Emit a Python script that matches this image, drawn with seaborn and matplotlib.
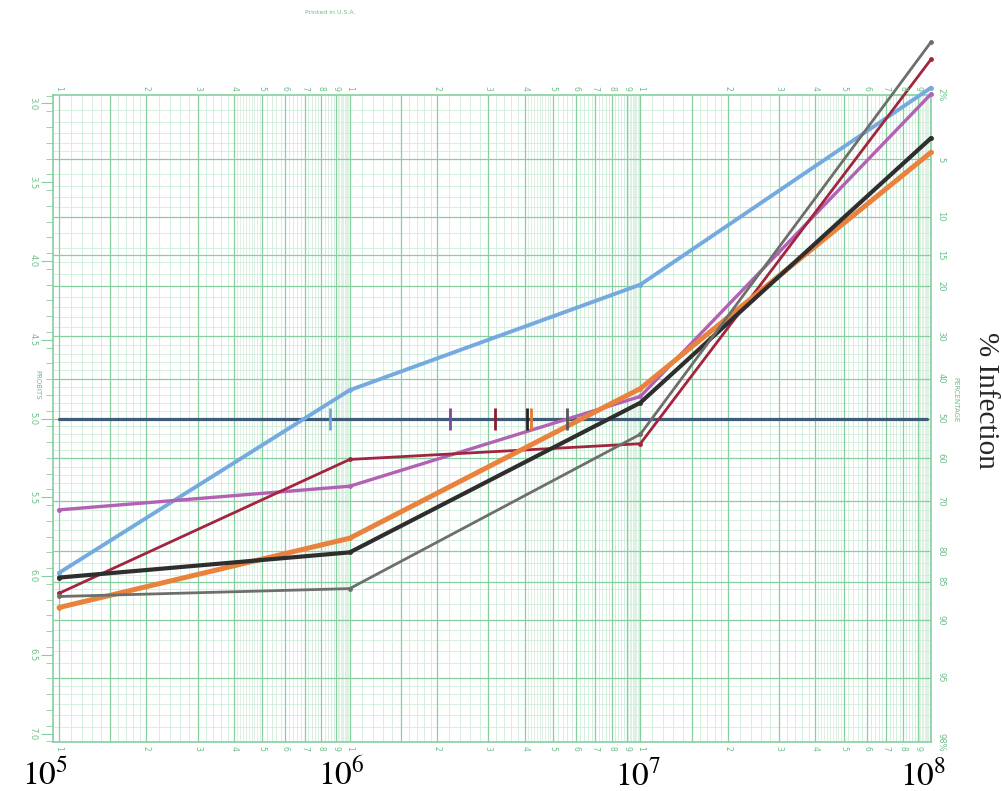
import numpy as np
import pandas as pd
import matplotlib
matplotlib.use("Agg")
import matplotlib.pyplot as plt
import seaborn as sns
from statistics import NormalDist

# ---------------- data ----------------
doses = [1e5, 1e6, 1e7, 1e8]
blue_probit = [5.98, 4.82, 4.15, 2.90]
purple_probit = [5.58, 5.43, 4.86, 2.94]
red_probit = [6.11, 5.26, 5.16, 2.72]
orange_probit = [6.20, 5.76, 4.81, 3.31]
black_probit = [6.01, 5.85, 4.90, 3.22]
gray_probit = [6.13, 6.08, 5.10, 2.61]

ref_dose = [1e5, 9.7e7]
ref_probit = [5.0, 5.0]

ld50_dose = [8.55e5, 2.22e6, 3.16e6, 4.06e6, 4.20e6, 5.58e6]
ld50_color = ["#6fa6dc", "#7a4a9a", "#8c1c30", "#222222", "#e07a30", "#555555"]

pct_labels = ["2%", "5", "10", "15", "20", "30", "40", "50", "60", "70", "80", "85", "90", "95", "98%"]
pct_values = [2, 5, 10, 15, 20, 30, 40, 50, 60, 70, 80, 85, 90, 95, 98]
probit_labels = ["3.0", "3.5", "4.0", "4.5", "5.0", "5.5", "6.0", "6.5", "7.0"]
probit_values = [3.0, 3.5, 4.0, 4.5, 5.0, 5.5, 6.0, 6.5, 7.0]
decade_labels = [r"$10^{5}$", r"$10^{6}$", r"$10^{7}$", r"$10^{8}$"]
decade_label_x = [45, 341, 638, 923]


def probit(p):
    return 5 + NormalDist().inv_cdf(p / 100.0)


sns.set_style("white")
plt.rcParams["mathtext.fontset"] = "stix"

W, H = 1002, 791
fig = plt.figure(figsize=(W / 100, H / 100), dpi=100)
fig.patch.set_facecolor("white")
ax = fig.add_axes([53 / W, 49 / H, 878 / W, 647 / H])

GMAJ = "#86cf9f"
GMIN = "#cdeed8"
GTXT = "#6cbf88"

x0 = 10 ** (5 - 6 / 290.7)
ax.set_xscale("log")

# ---------------- graph-paper grid ----------------
minor_x, major_x, dense_x = [], [], []
for dec in [1e5, 1e6, 1e7]:
    for m in range(1, 10):
        major_x.append(m * dec)
    major_x.append(1.5 * dec)
    for v in np.arange(1.1, 2.0, 0.1):
        minor_x.append(v * dec)
    for v in np.arange(2.2, 4.0, 0.2):
        minor_x.append(v * dec)
    for v in np.arange(5.2, 9.0, 0.2):
        minor_x.append(v * dec)
    for v in np.arange(4.1, 5.0, 0.1):
        dense_x.append(v * dec)
    for v in np.arange(9.1, 10.0, 0.1):
        dense_x.append(v * dec)
xt = ax.get_xaxis_transform()
ax.vlines(dense_x, 0, 1, transform=xt, colors="#d8efdf", lw=0.6, zorder=0)
ax.vlines(minor_x, 0, 1, transform=xt, colors=GMIN, lw=0.6, zorder=0)
ax.vlines(major_x, 0, 1, transform=xt, colors=GMAJ, lw=0.9, zorder=0.5)

minor_p = list(np.arange(2.5, 5.0, 0.5)) + list(range(6, 10)) + list(range(12, 90, 2)) + \
    list(range(91, 95)) + list(np.arange(95.5, 98, 0.5))
major_p = [5, 10, 15, 20, 30, 40, 50, 60, 70, 80, 85, 90, 95]
yt = ax.get_yaxis_transform()
ax.hlines([probit(p) for p in minor_p], 0, 1, transform=yt, colors=GMIN, lw=0.6, zorder=0)
ax.hlines([probit(p) for p in major_p], 0, 1, transform=yt, colors=GMAJ, lw=0.9, zorder=0.5)

# ---------------- hand-drawn series ----------------
series = [
    ("blue", blue_probit, "#74aadf", 2.8),
    ("purple", purple_probit, "#b261b4", 2.4),
    ("red", red_probit, "#a3243f", 2.0),
    ("orange", orange_probit, "#e9823c", 3.6),
    ("black", black_probit, "#2e2e2e", 3.0),
    ("gray", gray_probit, "#6e6e6a", 2.0),
]
for name, vals, col, lw in series:
    d = pd.DataFrame({"dose": doses, "probit": vals})
    sns.lineplot(data=d, x="dose", y="probit", color=col, lw=lw, sort=False,
                 marker="o", markersize=3.5, markeredgewidth=0,
                 clip_on=False, ax=ax, zorder=3)

dref = pd.DataFrame({"dose": ref_dose, "probit": ref_probit})
sns.lineplot(data=dref, x="dose", y="probit", color="#3e5c78", lw=2.3, ax=ax, zorder=2.5)

ax.vlines(ld50_dose, 4.935, 5.075, colors=ld50_color, lw=2.0, zorder=4)

ax.set_xlim(x0, 1e8)
ax.set_ylim(probit(98), probit(2))

# ---------------- axes decoration ----------------
for s in ax.spines.values():
    s.set_color(GMAJ)
    s.set_linewidth(1.2)
ax.set_xlabel("")
ax.set_ylabel("")
ax.set_xticks([])
ax.set_xticks([], minor=True)
ax.set_yticks(probit_values)
ax.set_yticks(np.arange(2.95, 7.06, 0.1), minor=True)
ax.set_yticklabels(probit_labels, rotation=-90, fontsize=6, color=GTXT, va="center")
ax.tick_params(axis="y", which="major", length=9, color=GMAJ, width=0.8, pad=2, left=True)
ax.tick_params(axis="y", which="minor", length=5, color=GMAJ, width=0.6, left=True)

for lab, pv in zip(pct_labels, pct_values):
    ax.text(1.006, probit(pv), lab, transform=yt, rotation=-90, fontsize=6,
            color=GTXT, ha="left", va="center")

for dec in [1e5, 1e6, 1e7]:
    for m in range(1, 10):
        ax.text(m * dec, 1.006, str(m), transform=xt, rotation=-90, fontsize=5.5,
                color=GTXT, ha="center", va="bottom")
        ax.text(m * dec, -0.006, str(m), transform=xt, rotation=-90, fontsize=5.5,
                color=GTXT, ha="center", va="top")

fig.text(37 / W, 1 - 385 / H, "PROBITS", rotation=-90, fontsize=5, color=GTXT,
         ha="center", va="center")
fig.text(955 / W, 1 - 400 / H, "PERCENTAGE", rotation=-90, fontsize=5, color=GTXT,
         ha="center", va="center")
fig.text(330 / W, 1 - 13 / H, "Printed in U.S.A.", fontsize=4.5, color=GTXT,
         ha="center", va="center")

for lab, px in zip(decade_labels, decade_label_x):
    fig.text(px / W, 1 - 785 / H, lab, fontsize=24, ha="center", va="baseline",
             color="black")

fig.text(986 / W, 1 - 400 / H, "% Infection", rotation=-90, fontsize=21,
         family="Liberation Serif", ha="center", va="center")

fig.savefig("out.png", dpi=100, facecolor="white")
